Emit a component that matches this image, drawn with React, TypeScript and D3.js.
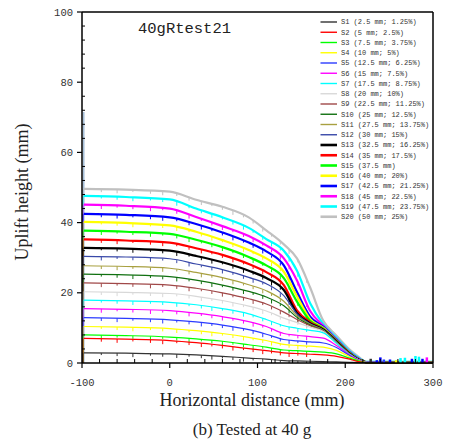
import React from "react";
import * as d3 from "d3";

const xs = [-98, -50, 0, 30, 60, 90, 110, 130, 145, 160, 175, 190, 205, 215, 225, 260, 300];

const S1 = [2.9, 2.8, 2.6, 2.3, 1.9, 1.4, 1.1, 0.7, 0.6, 0.5, 0.4, 0.3, 0.2, 0.1, 0.1, 0.2, 0.2];
const S2 = [7.0, 6.8, 6.4, 5.8, 5.0, 4.1, 3.5, 2.9, 2.7, 2.5, 2.3, 1.9, 1.1, 0.4, 0.1, 0.2, 0.2];
const S3 = [8.0, 7.8, 7.4, 6.9, 6.2, 5.2, 4.5, 3.7, 3.5, 3.3, 3.1, 2.6, 1.4, 0.6, 0.1, 0.2, 0.2];
const S4 = [10.4, 10.2, 9.8, 9.2, 8.4, 7.3, 6.4, 5.3, 5.0, 4.8, 4.5, 3.6, 1.8, 0.7, 0.1, 0.2, 0.2];
const S5 = [12.9, 12.7, 12.3, 11.7, 10.8, 9.5, 8.2, 6.7, 6.3, 6.0, 5.7, 4.4, 2.1, 0.8, 0.2, 0.2, 0.2];
const S6 = [15.5, 15.3, 14.9, 14.2, 13.2, 11.8, 10.4, 8.4, 7.9, 7.5, 7.1, 5.0, 2.3, 0.9, 0.2, 0.2, 0.2];
const S7 = [17.9, 17.7, 17.3, 16.6, 15.5, 14.0, 12.4, 10.6, 9.9, 9.3, 8.6, 5.6, 2.4, 0.9, 0.2, 0.2, 0.2];
const S8 = [20.3, 20.1, 19.8, 19.0, 17.8, 16.2, 14.8, 12.8, 11.5, 10.2, 9.0, 5.6, 2.4, 0.9, 0.2, 0.2, 0.2];
const S9 = [22.8, 22.6, 22.2, 21.3, 20.0, 18.3, 16.8, 14.5, 12.4, 10.6, 9.1, 5.7, 2.5, 0.9, 0.2, 0.2, 0.2];
const S10 = [25.3, 25.1, 24.6, 23.6, 22.2, 20.4, 18.8, 16.3, 13.0, 10.8, 9.2, 5.8, 2.5, 0.9, 0.2, 0.2, 0.2];
const S11 = [27.7, 27.5, 27.0, 25.8, 24.3, 22.3, 20.6, 17.6, 13.5, 11.0, 9.3, 5.9, 2.6, 0.9, 0.2, 0.2, 0.2];
const S12 = [30.4, 30.2, 29.7, 28.2, 26.6, 24.4, 22.6, 19.2, 14.0, 11.2, 9.4, 6.0, 2.6, 1.0, 0.2, 0.2, 0.2];
const S13 = [32.8, 32.6, 32.0, 30.5, 28.7, 26.3, 24.2, 20.8, 14.2, 11.3, 9.5, 6.1, 2.7, 1.0, 0.2, 0.2, 0.2];
const S14 = [35.2, 34.9, 34.3, 32.7, 30.8, 28.2, 25.9, 22.2, 15.0, 11.6, 9.6, 6.2, 2.7, 1.0, 0.2, 0.2, 0.2];
const S15 = [37.7, 37.4, 36.8, 35.1, 33.0, 30.2, 27.8, 24.2, 17.5, 12.0, 9.8, 6.3, 2.8, 1.1, 0.2, 0.2, 0.2];
const S16 = [40.2, 39.9, 39.2, 37.4, 35.0, 32.2, 29.8, 26.0, 19.0, 12.5, 10.0, 6.4, 2.9, 1.1, 0.2, 0.2, 0.2];
const S17 = [42.5, 42.2, 41.5, 39.6, 37.2, 34.3, 31.8, 27.8, 20.2, 13.2, 10.3, 6.6, 3.0, 1.2, 0.2, 0.2, 0.2];
const S18 = [45.1, 44.8, 44.0, 41.6, 39.0, 36.2, 33.5, 29.8, 23.5, 14.8, 10.6, 6.8, 3.1, 1.3, 0.2, 0.2, 0.2];
const S19 = [47.6, 47.3, 46.6, 44.0, 41.5, 38.5, 35.3, 32.0, 26.3, 17.0, 11.0, 7.2, 3.4, 1.5, 0.3, 0.3, 0.3];
const S20 = [49.6, 49.4, 48.8, 46.5, 44.5, 41.5, 37.8, 33.8, 29.8, 21.5, 12.0, 7.8, 3.8, 1.8, 0.3, 0.3, 0.3];

const seriesValues = [S1, S2, S3, S4, S5, S6, S7, S8, S9, S10, S11, S12, S13, S14, S15, S16, S17, S18, S19, S20];

const seriesLabels = [
  "S1 (2.5 mm; 1.25%)",
  "S2 (5 mm; 2.5%)",
  "S3 (7.5 mm; 3.75%)",
  "S4 (10 mm; 5%)",
  "S5 (12.5 mm; 6.25%)",
  "S6 (15 mm; 7.5%)",
  "S7 (17.5 mm; 8.75%)",
  "S8 (20 mm; 10%)",
  "S9 (22.5 mm; 11.25%)",
  "S10 (25 mm; 12.5%)",
  "S11 (27.5 mm; 13.75%)",
  "S12 (30 mm; 15%)",
  "S13 (32.5 mm; 16.25%)",
  "S14 (35 mm; 17.5%)",
  "S15 (37.5 mm)",
  "S16 (40 mm; 20%)",
  "S17 (42.5 mm; 21.25%)",
  "S18 (45 mm; 22.5%)",
  "S19 (47.5 mm; 23.75%)",
  "S20 (50 mm; 25%)",
];

const seriesColors = [
  "#333333", "#ff0000", "#00ff00", "#ffff00", "#2b3bff", "#ff00ff", "#00ffff", "#d8d8d8",
  "#a04848", "#107010", "#a8a040", "#3848a8", "#000000", "#ff0000", "#00ff00", "#ffff00",
  "#0000ff", "#ff00ff", "#00ffff", "#c0c0c0",
];

// x positions of the small downward dropouts seen along each profile
const spikeX = [-78, -60, -42, -22, -8, 8, 22, 36, 48, 60, 72, 84, 95, 106, 116, 126, 136, 146, 156];

// small blips beyond the trough
const tailX = [229, 236, 240, 244, 251, 258, 263, 268, 276, 280, 284, 288, 293];
const tailH = [1.2, 0.8, 1.6, 1.0, 1.0, 0.8, 1.4, 1.5, 1.2, 2.0, 1.8, 1.2, 1.6];
const tailS = [0, 16, 16, 4, 16, 15, 18, 18, 16, 18, 18, 16, 17];

const wallTop = 71.5;

const xTicksMajor = [-100, 0, 100, 200, 300];
const yTicksMajor = [0, 20, 40, 60, 80, 100];

export default function App() {
  const x = d3.scaleLinear().domain([-100, 300]).range([82, 433]);
  const y = d3.scaleLinear().domain([0, 100]).range([363, 12]);

  const line = d3
    .line<number>()
    .x((_, i) => x(xs[i]))
    .y((d) => y(d))
    .curve(d3.curveMonotoneX);

  const interp = (vals: number[], xv: number) => {
    const i = d3.bisectRight(xs, xv) - 1;
    const j = Math.min(i + 1, xs.length - 1);
    const t = (xv - xs[i]) / (xs[j] - xs[i] || 1);
    return vals[i] + (vals[j] - vals[i]) * t;
  };

  const xMinor = d3.range(-100, 301, 20).filter((v) => !xTicksMajor.includes(v));
  const yMinor = d3.range(0, 101, 4).filter((v) => !yTicksMajor.includes(v));

  const mono = "'Liberation Mono', 'Courier New', monospace";
  const serif = "'Liberation Serif', 'Times New Roman', serif";

  const order = d3.range(seriesValues.length).reverse();

  return (
    <svg width={450} height={442} style={{ position: "absolute", left: 0, top: 0, background: "#fff" }}>
      <rect x={0} y={0} width={450} height={442} fill="#fff" />
      {/* wall line */}
      <line x1={x(-98)} x2={x(-98)} y1={y(0)} y2={y(wallTop)} stroke="#a8c0d8" strokeWidth={1.6} />
      {order.map((k) => (
        <line key={"w" + k} x1={x(-99)} x2={x(-99)} y1={y(0)} y2={y(seriesValues[k][0])}
          stroke={seriesColors[k]} strokeWidth={1} />
      ))}
      {/* profiles */}
      {order.map((k) => {
        const vals = seriesValues[k];
        const thick = k >= 12;
        return (
          <g key={"s" + k}>
            <path d={line(vals) || ""} fill="none" stroke={seriesColors[k]} strokeWidth={thick ? 2.2 : 1.2} />
            {spikeX.map((sx, j) => {
              const v = interp(vals, sx);
              const depth = 0.6 + ((j + k) % 3) * 0.25;
              return (
                <line key={j} x1={x(sx)} x2={x(sx)} y1={y(v)} y2={y(Math.max(0, v - depth))}
                  stroke={seriesColors[k]} strokeWidth={1} />
              );
            })}
          </g>
        );
      })}
      {tailX.map((tx, i) => (
        <line key={"t" + i} x1={x(tx)} x2={x(tx)} y1={y(0)} y2={y(tailH[i])}
          stroke={seriesColors[tailS[i]]} strokeWidth={2.5} />
      ))}
      {/* frame */}
      <line x1={82} x2={433} y1={12} y2={12} stroke="#000" strokeWidth={1.5} />
      <line x1={433} x2={433} y1={12} y2={363} stroke="#000" strokeWidth={1.5} />
      <line x1={82} x2={433} y1={363} y2={363} stroke="#000" strokeWidth={1.5} />
      <line x1={82} x2={82} y1={12} y2={363} stroke="#000" strokeWidth={1.5} />
      {/* x ticks */}
      {xTicksMajor.map((t) => (
        <g key={"xm" + t}>
          <line x1={x(t)} x2={x(t)} y1={363} y2={368} stroke="#000" strokeWidth={1.2} />
          <text x={x(t)} y={386} textAnchor="middle" fontFamily={mono} fontSize={10.5} fill="#333">{t}</text>
        </g>
      ))}
      {xMinor.map((t) => (
        <line key={"xn" + t} x1={x(t)} x2={x(t)} y1={363} y2={359} stroke="#000" strokeWidth={1} />
      ))}
      {/* y ticks */}
      {yTicksMajor.map((t) => (
        <g key={"ym" + t}>
          <line x1={77} x2={82} y1={y(t)} y2={y(t)} stroke="#000" strokeWidth={1.2} />
          <text x={73} y={y(t) + 3.5} textAnchor="end" fontFamily={mono} fontSize={10.5} fill="#333">{t}</text>
        </g>
      ))}
      {yMinor.map((t) => (
        <line key={"yn" + t} x1={82} x2={85} y1={y(t)} y2={y(t)} stroke="#000" strokeWidth={1} />
      ))}
      {/* title */}
      <text x={138} y={33} fontFamily={mono} fontSize={15.5} fill="#222">40gRtest21</text>
      {/* legend */}
      {seriesLabels.map((lab, i) => {
        const ly = 22 + i * 10.25;
        return (
          <g key={"l" + i}>
            <line x1={320.5} x2={337} y1={ly} y2={ly} stroke={seriesColors[i]} strokeWidth={i >= 12 ? 2.6 : 1.4} />
            <text x={341} y={ly + 2.4} fontFamily={mono} fontSize={7} fill="#333">{lab}</text>
          </g>
        );
      })}
      {/* axis titles */}
      <text x={252} y={406} textAnchor="middle" fontFamily={serif} fontSize={18} fill="#222">Horizontal distance (mm)</text>
      <text transform="translate(28,192) rotate(-90)" textAnchor="middle" fontFamily={serif} fontSize={18} fill="#222">Uplift height (mm)</text>
      <text x={252} y={435} textAnchor="middle" fontFamily={serif} fontSize={17} fill="#222">(b) Tested at 40 g</text>
    </svg>
  );
}
